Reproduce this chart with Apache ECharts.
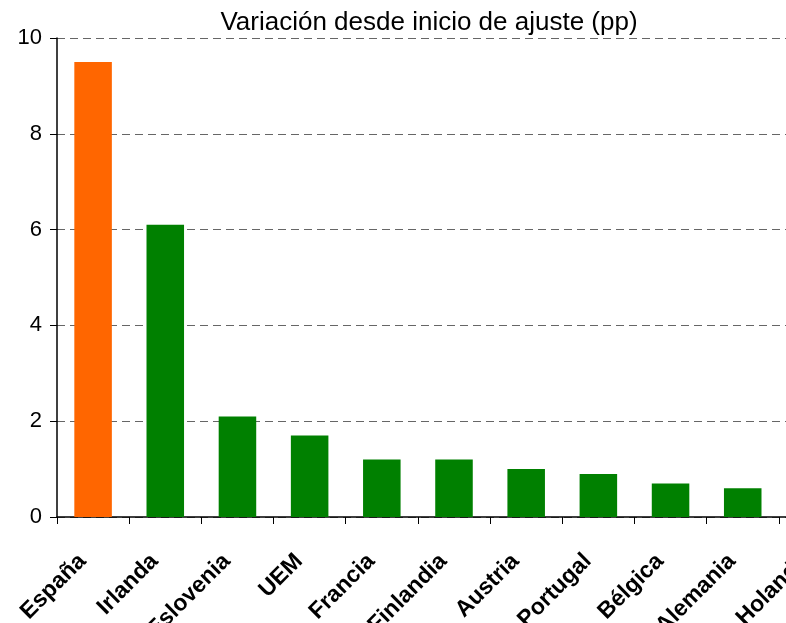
<!DOCTYPE html>
<html>
<head>
<meta charset="utf-8">
<script src="https://cdn.jsdelivr.net/npm/echarts@6/dist/echarts.min.js"></script>
<style>
  html, body { margin: 0; padding: 0; background: #fff; }
  #chart { width: 786px; height: 623px; }
</style>
</head>
<body>
<div id="chart"></div>
<script>
// data
const countries = ['España', 'Irlanda', 'Eslovenia', 'UEM', 'Francia', 'Finlandia',
  'Austria', 'Portugal', 'Bélgica', 'Alemania', 'Holanda'];
const values = [9.5, 6.1, 2.1, 1.7, 1.2, 1.2, 1.0, 0.9, 0.7, 0.6, 0.5];
const yTicks = [0, 2, 4, 6, 8, 10];

let chartDom = document.getElementById('chart');
let myChart = echarts.init(chartDom, null, { renderer: 'canvas' });

let option = {
  animation: false,
  title: {
    text: 'Variación desde inicio de ajuste (pp)',
    left: 424,
    textAlign: 'center',
    top: 5,
    textStyle: {
      fontFamily: 'Liberation Sans, Arial, sans-serif',
      fontWeight: 'normal',
      fontSize: 26,
      color: '#000'
    }
  },
  grid: {
    left: 57,
    top: 38,
    bottom: 106,
    width: 794,
    outerBoundsMode: 'none',
    containLabel: false
  },
  xAxis: {
    type: 'category',
    data: countries,
    axisLine: { lineStyle: { color: '#000', width: 1.5 } },
    axisTick: { show: true, length: 7, lineStyle: { color: '#000' } },
    axisLabel: {
      interval: 0,
      rotate: 45,
      margin: 30,
      padding: [0, 15, 0, 0],
      fontFamily: 'Liberation Sans, Arial, sans-serif',
      fontWeight: 'bold',
      fontSize: 23,
      color: '#000'
    }
  },
  yAxis: {
    type: 'value',
    min: yTicks[0],
    max: yTicks[yTicks.length - 1],
    interval: 2,
    axisLine: { show: true, lineStyle: { color: '#000', width: 1.5 } },
    axisTick: { show: true, length: 7, lineStyle: { color: '#000' } },
    axisLabel: {
      margin: 15,
      fontFamily: 'Liberation Sans, Arial, sans-serif',
      fontSize: 22,
      color: '#000'
    },
    splitLine: {
      show: true,
      lineStyle: { color: '#666', type: [8, 5], width: 1 }
    }
  },
  series: [
    {
      type: 'bar',
      barWidth: '52%',
      data: values.map(function (v, i) {
        return {
          value: v,
          itemStyle: { color: i === 0 ? '#FF6600' : '#008000' }
        };
      })
    }
  ]
};
myChart.setOption(option);
</script>
</body>
</html>
